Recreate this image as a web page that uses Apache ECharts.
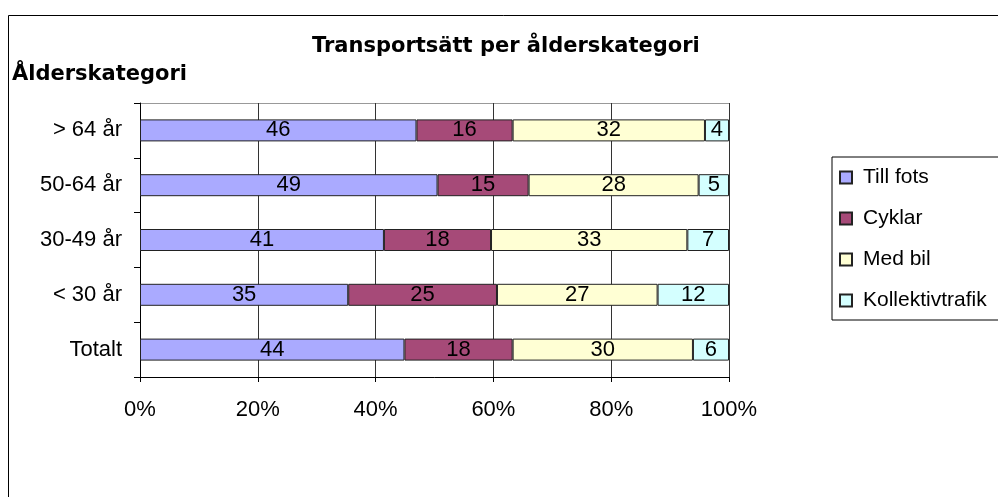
<!DOCTYPE html>
<html>
<head>
<meta charset="utf-8">
<script src="https://cdn.jsdelivr.net/npm/echarts@6/dist/echarts.min.js"></script>
<style>html,body{margin:0;padding:0;background:#fff;}#c{width:998px;height:497px;}</style>
</head>
<body>
<div id="c"></div>
<script>
// Categories, top to bottom as shown
const categories = ['> 64 år', '50-64 år', '30-49 år', '< 30 år', 'Totalt'];
const seriesNames = ['Till fots', 'Cyklar', 'Med bil', 'Kollektivtrafik'];
const tillFots = [46, 49, 41, 35, 44];
const cyklar = [16, 15, 18, 25, 18];
const medBil = [32, 28, 33, 27, 30];
const kollektiv = [4, 5, 7, 12, 6];
const xTicks = [0, 20, 40, 60, 80, 100];
const colors = ['#AAAAFF', '#A64A78', '#FFFFD4', '#D4FFFF'];

const raw = [tillFots, cyklar, medBil, kollektiv];
const totals = categories.map((_, i) => raw.reduce((s, arr) => s + arr[i], 0));

const FONT = '"Liberation Sans", Arial, sans-serif';
const chart = echarts.init(document.getElementById('c'), null, {renderer: 'canvas'});

const grid = {left: 140, top: 103, width: 589, height: 274};

chart.setOption({
  animation: false,
  backgroundColor: '#fff',
  title: [
    {text: 'Transportsätt per ålderskategori', left: 312, top: 36, padding: 0,
     textStyle: {fontFamily: '"DejaVu Sans"', fontWeight: 'bold', fontSize: 21, color: '#000'}},
    {text: 'Ålderskategori', left: 12, top: 64, padding: 0,
     textStyle: {fontFamily: '"DejaVu Sans"', fontWeight: 'bold', fontSize: 21, color: '#000'}}
  ],
  graphic: [
    {type: 'rect', shape: {x: 8.5, y: 15.5, width: 1100, height: 600}, style: {fill: 'none', stroke: '#000', lineWidth: 1}, z: -10},
    {type: 'rect', shape: {x: grid.left + 0.5, y: grid.top + 0.5, width: grid.width, height: grid.height}, style: {fill: 'none', stroke: '#999', lineWidth: 1}, z: -5}
  ],
  legend: {
    orient: 'vertical', left: 832, top: 157,
    padding: [10, 40, 9, 7], itemGap: 20,
    itemWidth: 12, itemHeight: 12, icon: 'rect',
    borderColor: '#000', borderWidth: 1,
    textStyle: {fontFamily: FONT, fontSize: 21, color: '#000', padding: [0, 0, 0, 6]},
    data: seriesNames
  },
  grid: grid,
  xAxis: {
    type: 'value', min: 0, max: 100, interval: 20,
    axisLine: {show: true, lineStyle: {color: '#000'}},
    axisTick: {show: true, length: 5, lineStyle: {color: '#000'}},
    splitLine: {show: true, lineStyle: {color: '#333'}},
    axisLabel: {margin: 22, fontFamily: FONT, fontSize: 22, color: '#000',
      formatter: v => xTicks.indexOf(v) >= 0 ? v + '%' : ''}
  },
  yAxis: {
    type: 'category', data: categories, inverse: true,
    axisLine: {show: true, lineStyle: {color: '#000'}},
    axisTick: {show: true, length: 6, lineStyle: {color: '#000'}},
    axisLabel: {margin: 18, fontFamily: FONT, fontSize: 22, color: '#000'}
  },
  series: seriesNames.map((name, k) => ({
    name: name, type: 'bar', stack: 'all', barWidth: 22,
    itemStyle: {color: colors[k], borderColor: '#222', borderWidth: 1},
    label: {show: true, position: 'inside', color: '#000', fontFamily: FONT, fontSize: 22,
      formatter: p => String(raw[k][p.dataIndex])},
    data: raw[k].map((v, i) => v / totals[i] * 100)
  }))
});
</script>
</body>
</html>
